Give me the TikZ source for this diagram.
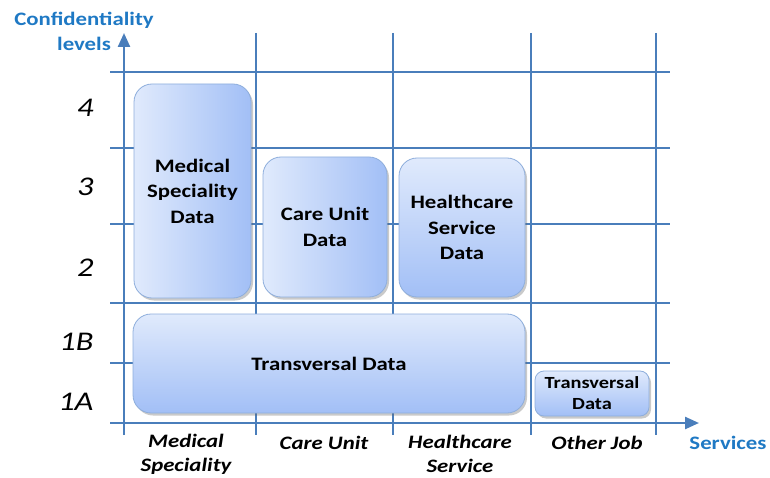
\documentclass[tikz,border=0pt]{standalone}
\usepackage{fontspec}
\setmainfont{Carlito}[FakeStretch=1.2]
\usetikzlibrary{arrows.meta,shadows}
\definecolor{gridblue}{HTML}{4A7EBB}
\definecolor{labelblue}{HTML}{1F79C4}
\definecolor{boxlight}{HTML}{E0EAFC}
\definecolor{boxdark}{HTML}{A2BFF6}
\definecolor{boxborder}{HTML}{8EAEDC}
\tikzset{
  gridline/.style={draw=gridblue, line width=1.4pt},
  axisline/.style={draw=gridblue, line width=2.4pt, -{Triangle[length=14pt,width=12pt]}},
  databox/.style={draw=boxborder, line width=0.8pt, rounded corners=18pt, align=center,
    font=\bfseries\fontsize{19}{25.5}\selectfont, inner sep=0pt,
    drop shadow={shadow xshift=2pt, shadow yshift=-2.5pt, opacity=0.35, fill=black!60}},
  hgrad/.style={left color=boxlight, right color=boxdark},
  vgrad/.style={top color=boxlight, bottom color=boxdark},
  levellabel/.style={font=\itshape\fontsize{27}{30}\selectfont, anchor=east},
  servlabel/.style={font=\bfseries\itshape\fontsize{19}{24}\selectfont, align=center, inner sep=1pt},
  axislabel/.style={font=\bfseries\fontsize{19}{25}\selectfont, text=labelblue, align=center}
}
\begin{document}
\begin{tikzpicture}[x=1pt,y=-1pt]
\useasboundingbox (0,0) rectangle (770,478);
% grid
\foreach \yy in {72,148,224,303,363} \draw[gridline] (110,\yy) -- (670,\yy);
\foreach \xx in {256,393,531,656} \draw[gridline] (\xx,33) -- (\xx,435);
% axes
\coordinate (yorig) at (124,435);
\coordinate (ytip) at (124,33);
\coordinate (xorig) at (110,423);
\coordinate (xtip) at (699,423);
\draw[axisline] (yorig) -- (ytip);
\draw[axisline] (xorig) -- (xtip);
% boxes
\node[databox, hgrad, minimum width=117pt, minimum height=214pt] (med) at (192.5,191) {Medical\\Speciality\\Data};
\node[databox, hgrad, minimum width=124pt, minimum height=140pt] (care) at (325,227) {Care Unit\\Data};
\node[databox, vgrad, minimum width=126pt, minimum height=139pt] (hc) at (462,227.5) {Healthcare\\Service\\Data};
\node[databox, vgrad, minimum width=392pt, minimum height=99pt] (trans) at (329,363.5) {Transversal Data};
\node[databox, vgrad, rounded corners=9pt, minimum width=114pt, minimum height=45pt,
  font=\bfseries\fontsize{17}{21}\selectfont] (trans2) at (592,393.5) {Transversal\\Data};
% level labels
\node[levellabel] (l4) at (97,108) {4};
\node[levellabel] (l3) at (97,187) {3};
\node[levellabel] (l2) at (97,268) {2};
\node[levellabel] (l1b) at (97,342) {1B};
\node[levellabel] (l1a) at (97,402) {1A};
% service labels
\node[servlabel] (smed) at (186,454) {Medical\\Speciality};
\node[servlabel] (scare) at (324,443) {Care Unit};
\node[servlabel] (shc) at (460,454) {Healthcare\\Service};
\node[servlabel] (sother) at (597,443) {Other Job};
% axis labels
\node[axislabel] (conf) at (84,31) {Confidentiality\\levels};
\node[axislabel] (serv) at (728,443) {Services};
\end{tikzpicture}
\end{document}
